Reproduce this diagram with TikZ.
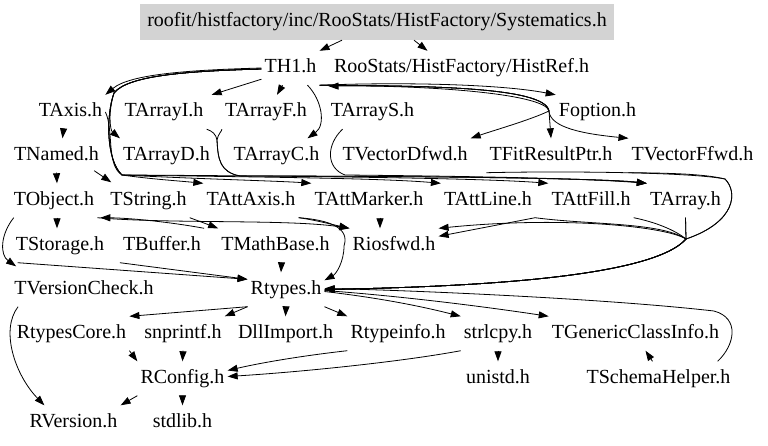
\documentclass[tikz,border=0pt]{standalone}
\usepackage{fontspec}
\setmainfont{Liberation Serif}
\usetikzlibrary{arrows.meta}
\definecolor{boxgray}{RGB}{211,211,211}
\begin{document}
\begin{tikzpicture}[x=1pt,y=-1pt,
  file/.style={inner xsep=3pt, inner ysep=0pt, minimum height=34pt, text height=14pt, text depth=5pt, font=\fontsize{20}{24}\selectfont},
  arr/.style={draw=black, line width=0.8pt, -{Triangle[length=10pt,width=7pt]}}]
\useasboundingbox (0,0) rectangle (768,445);
% nodes
\node[file, fill=boxgray, minimum width=474pt, minimum height=36pt] (sys) at (377,22) {roofit/histfactory/inc/RooStats/HistFactory/Systematics.h};
\node[file] (th1) at (290.5,68) {TH1.h};
\node[file] (histref) at (461.5,68) {RooStats/HistFactory/HistRef.h};
\node[file] (taxis) at (70.5,112) {TAxis.h};
\node[file] (tarrayi) at (164,112) {TArrayI.h};
\node[file] (tarrayf) at (266,112) {TArrayF.h};
\node[file] (tarrays) at (372.5,112) {TArrayS.h};
\node[file] (foption) at (597.5,112) {Foption.h};
\node[file] (tnamed) at (56.5,155.5) {TNamed.h};
\node[file] (tarrayd) at (166.5,155.5) {TArrayD.h};
\node[file] (tarrayc) at (276.5,155.5) {TArrayC.h};
\node[file] (tvectordfwd) at (405,155.5) {TVectorDfwd.h};
\node[file] (tfitresultptr) at (551,155.5) {TFitResultPtr.h};
\node[file] (tvectorffwd) at (692.5,155.5) {TVectorFfwd.h};
\node[file] (tobject) at (54,200.5) {TObject.h};
\node[file] (tstring) at (148.5,200.5) {TString.h};
\node[file] (tattaxis) at (251,200.5) {TAttAxis.h};
\node[file] (tattmarker) at (369,200.5) {TAttMarker.h};
\node[file] (tattline) at (488,200.5) {TAttLine.h};
\node[file] (tattfill) at (591,200.5) {TAttFill.h};
\node[file] (tarray) at (685.5,200.5) {TArray.h};
\node[file] (tstorage) at (60,245.5) {TStorage.h};
\node[file] (tbuffer) at (162,245.5) {TBuffer.h};
\node[file] (tmathbase) at (275.5,245.5) {TMathBase.h};
\node[file] (riosfwd) at (394,245.5) {Riosfwd.h};
\node[file] (tversioncheck) at (84,289.5) {TVersionCheck.h};
\node[file] (rtypes) at (286,289.5) {Rtypes.h};
\node[file] (rtypescore) at (71.5,333.5) {RtypesCore.h};
\node[file] (snprintf) at (183,333.5) {snprintf.h};
\node[file] (dllimport) at (285.5,333.5) {DllImport.h};
\node[file] (rtypeinfo) at (398,333.5) {Rtypeinfo.h};
\node[file] (strlcpy) at (498,333.5) {strlcpy.h};
\node[file] (tgenericclassinfo) at (635.5,333.5) {TGenericClassInfo.h};
\node[file] (rconfig) at (182.5,378.5) {RConfig.h};
\node[file] (unistd) at (498,378.5) {unistd.h};
\node[file] (tschemahelper) at (658.5,378.5) {TSchemaHelper.h};
\node[file] (rversion) at (73.5,422.5) {RVersion.h};
\node[file] (stdlib) at (182.5,422.5) {stdlib.h};
% waypoints
\coordinate (kA) at (114,93);
\coordinate (kB) at (122,175);
\coordinate (kY) at (217,140);
\coordinate (kC) at (240,176);
\coordinate (kD) at (345,175);
\coordinate (fork) at (549,111);
\coordinate (brace) at (725,179);
\coordinate (J) at (686,239);
\coordinate (kR) at (344,246);
\coordinate (rloop) at (714,311);
% top
\draw[arr] ([xshift=-35pt]sys.south) -- (th1.north east);
\draw[arr] ([xshift=37pt]sys.south) -- ([xshift=-34pt]histref.north);
% TH1
\draw[arr] (th1.west) .. controls (190,70) and (130,74) .. (taxis.north east);
\draw[arr] ([yshift=-1pt]th1.west) .. controls (190,71) and (128,75) .. (kA) .. controls (108,112) and (110,130) .. (tarrayd.north west);
\draw[arr] ([yshift=6pt]th1.south west) -- ([xshift=5pt]tarrayi.north east);
\draw[arr] ([xshift=-8pt]th1.south) -- ([xshift=11pt]tarrayf.north);
\draw[arr] ([xshift=17pt]th1.south) .. controls (322,100) and (326,125) .. ([xshift=31pt]tarrayc.north);
\draw[arr] (th1.south east) .. controls (400,82) and (500,84) .. (foption.north west);
\draw[arr] (th1.south east) .. controls (420,86) and (545,86) .. (fork) .. controls (530,120) and (495,130) .. (tvectordfwd.north east);
\draw[arr] (th1.south east) .. controls (420,86) and (545,86) .. (fork) -- (tfitresultptr.north);
\draw[arr] (th1.south east) .. controls (420,86) and (545,86) .. (fork) .. controls (550,128) and (585,134) .. (tvectorffwd.north west);
\draw[arr] (fork) .. controls (545,93) and (420,85) .. ([xshift=9pt,yshift=-1pt]th1.south east);
\draw[arr] ([yshift=-1pt]th1.west) .. controls (190,71) and (128,75) .. (kA) .. controls (106,115) and (106,160) .. (kB) .. controls (200,179) and (280,181) .. (tattmarker.north west);
\draw[arr] ([yshift=-1pt]th1.west) .. controls (190,71) and (128,75) .. (kA) .. controls (106,115) and (106,160) .. (kB) .. controls (250,177) and (380,178) .. (tattline.north west);
\draw[arr] ([yshift=-1pt]th1.west) .. controls (190,71) and (128,75) .. (kA) .. controls (106,115) and (106,160) .. (kB) .. controls (300,176) and (480,178) .. (tattfill.north west);
% TAxis
\draw[arr] ([xshift=-7pt]taxis.south) -- ([xshift=6pt]tnamed.north);
\draw[arr] (taxis.east) .. controls (114,130) and (106,165) .. (kB) .. controls (150,179) and (180,181) .. (tattaxis.north west);
% TArray family
\draw[arr] (tarrayi.south east) .. controls (212,131) and (216,134) .. (kY) .. controls (218,160) and (220,172) .. (kC) .. controls (400,176) and (600,178) .. (tarray.north west);
\draw[arr] (tarrayf.south west) .. controls (222,131) and (218,134) .. (kY) .. controls (218,160) and (220,172) .. (kC) .. controls (400,176) and (600,178) .. (tarray.north west);
\draw[arr] ([xshift=-30pt]tarrays.south) .. controls (326,145) and (326,168) .. (kD) .. controls (450,176) and (580,178) .. (tarray.north west);
% right brace to Rtypes
\draw[arr] (tfitresultptr.south west) .. controls (560,171) and (690,172) .. (brace) .. controls (738,192) and (736,222) .. (J) .. controls (650,280) and (450,287) .. (rtypes.east);
\draw[arr] (tvectorffwd.south west) .. controls (670,173) and (705,174) .. (brace) .. controls (738,192) and (736,222) .. (J) .. controls (650,280) and (450,287) .. (rtypes.east);
\draw[arr] (tarray.south) -- (J) .. controls (650,280) and (450,287) .. (rtypes.east);
\draw[arr] (tattfill.south east) .. controls (655,222) and (675,230) .. (J) .. controls (650,280) and (450,287) .. (rtypes.east);
\draw[arr] (tattline.south east) .. controls (590,225) and (660,222) .. (J) .. controls (650,280) and (450,287) .. (rtypes.east);
\draw[arr] (tarray.south) -- (J) .. controls (665,226) and (560,216) .. (riosfwd.north east);
\draw[arr] (tattline.south east) -- ([yshift=-8pt]riosfwd.north east);
% TAttAxis, TAttMarker
\draw[arr] (tattaxis.south east) .. controls (315,220) and (330,224) .. (riosfwd.north west);
\draw[arr] (tattaxis.south east) .. controls (330,220) and (350,228) .. (kR) .. controls (344,262) and (336,274) .. ([yshift=-8pt]rtypes.north east);
\draw[arr] ([xshift=11pt]tattmarker.south) -- ([xshift=-14pt]riosfwd.north);
% TNamed, TObject, TString
\draw[arr] (tnamed.south) -- ([xshift=3pt]tobject.north);
\draw[arr] ([xshift=-8pt,yshift=2pt]tnamed.south east) -- ([xshift=4pt,yshift=1pt]tstring.north west);
\draw[arr] (tobject.south east) .. controls (170,224) and (290,219) .. (riosfwd.north west);
\draw[arr] (tbuffer.north east) .. controls (170,222) and (130,218) .. ([xshift=3pt]tobject.south east);
\draw[arr] (tstring.south east) -- (tmathbase.north west);
\draw[arr] ([xshift=3pt]tobject.south) -- ([xshift=-3pt]tstorage.north);
\draw[arr] ([xshift=3pt]tobject.south west) .. controls (0,235) and (0,255) .. ([xshift=5pt,yshift=6pt]tversioncheck.north west);
% to Rtypes from row 5
\draw[arr] ([xshift=5pt]tstorage.south west) -- ([yshift=-7pt]rtypes.north west);
\draw[arr] (tbuffer.south west) -- ([yshift=-7pt]rtypes.north west);
\draw[arr] ([xshift=6pt]tmathbase.south) -- ([xshift=-5pt]rtypes.north);
% Rtypes out
\draw[arr] (rtypes.south west) -- (rtypescore.north east);
\draw[arr] (rtypes.south west) -- (snprintf.north east);
\draw[arr] (rtypes.south) -- (dllimport.north);
\draw[arr] (rtypes.south east) -- (rtypeinfo.north west);
\draw[arr] ([yshift=-2pt]rtypes.east) .. controls (380,298) and (420,306) .. (strlcpy.north west);
\draw[arr] ([yshift=-1pt]rtypes.east) .. controls (400,296) and (480,306) .. (tgenericclassinfo.north west);
\draw[arr] ([xshift=-16pt]tschemahelper.north east) .. controls (735,345) and (740,318) .. (rloop) .. controls (600,298) and (400,290) .. ([yshift=1pt]rtypes.east);
\draw[arr] ([xshift=-6pt]tschemahelper.north) -- ([xshift=10pt]tgenericclassinfo.south);
% row 7/8
\draw[arr] (rtypescore.south east) -- (rconfig.north west);
\draw[arr] (snprintf.south) -- (rconfig.north);
\draw[arr] (rtypeinfo.south west) .. controls (300,356) and (260,363) .. ([yshift=8pt]rconfig.east);
\draw[arr] (strlcpy.south west) .. controls (400,362) and (300,372) .. ([yshift=2pt]rconfig.east);
\draw[arr] (strlcpy.south) -- (unistd.north);
\draw[arr] (rconfig.south west) -- (rversion.north east);
\draw[arr] (rconfig.south) -- (stdlib.north);
\draw[arr] ([xshift=7pt]tversioncheck.south west) .. controls (0,330) and (15,375) .. ([xshift=18pt]rversion.north west);
\end{tikzpicture}
\end{document}
